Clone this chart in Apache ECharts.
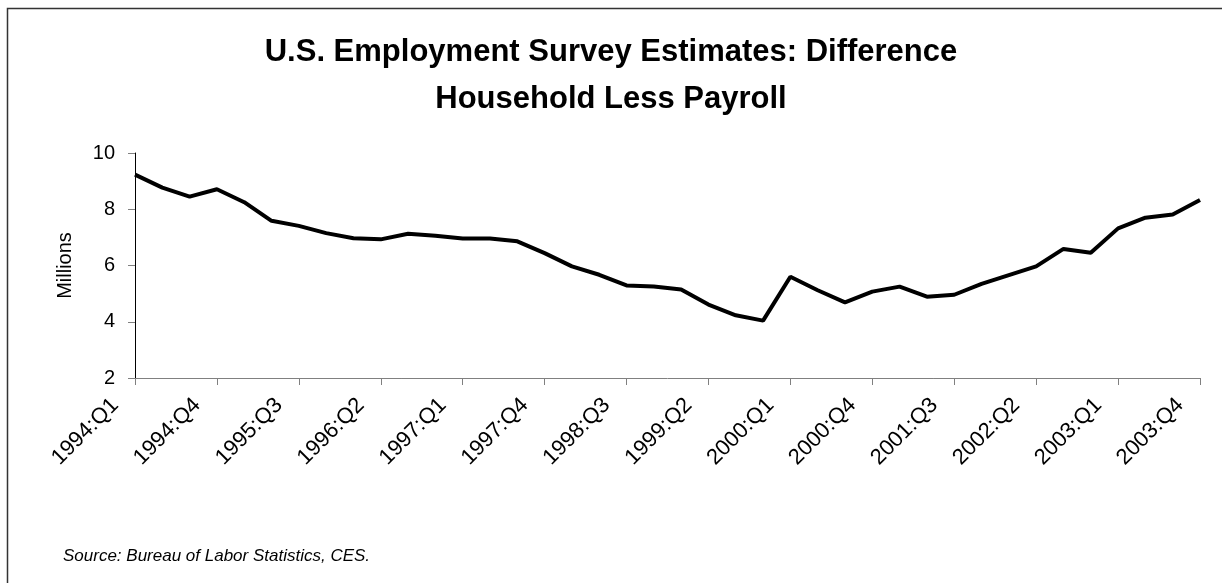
<!DOCTYPE html>
<html>
<head>
<meta charset="utf-8">
<script src="https://cdn.jsdelivr.net/npm/echarts@6/dist/echarts.min.js"></script>
<style>
  html, body { margin: 0; padding: 0; background: #fff; }
  #chart { width: 1222px; height: 583px; }
</style>
</head>
<body>
<div id="chart"></div>
<script>
// quarters 1994:Q1 .. 2003:Q4
const years = ['1994', '1995', '1996', '1997', '1998', '1999', '2000', '2001', '2002', '2003']
const quarters = []
years.forEach(y => {
  for (let q = 1; q <= 4; q++) quarters.push(y + ':Q' + q)
})

// household less payroll, millions
const diffValues = [
  9.23, 8.77, 8.45, 8.71, 8.25, 7.59, 7.41, 7.15, 6.97, 6.93,
  7.13, 7.06, 6.96, 6.96, 6.86, 6.44, 5.97, 5.67, 5.29, 5.25,
  5.15, 4.61, 4.23, 4.04, 5.60, 5.12, 4.69, 5.07, 5.25, 4.89,
  4.96, 5.35, 5.66, 5.97, 6.59, 6.45, 7.32, 7.70, 7.81, 8.33
]

const yMin = 2
const yMax = 10
const yStep = 2

const chart = echarts.init(document.getElementById('chart'))

const option = {
  animation: false,
  backgroundColor: '#fff',
  title: {
    text: 'U.S. Employment Survey Estimates: Difference\nHousehold Less Payroll',
    left: 'center',
    top: 24,
    textStyle: {
      fontFamily: 'Liberation Sans, Arial, sans-serif',
      fontSize: 31,
      fontWeight: 'bold',
      color: '#000',
      lineHeight: 47
    }
  },
  graphic: [
    {
      type: 'rect',
      left: 5,
      top: 6,
      shape: { width: 1240, height: 600 },
      style: { fill: 'none', stroke: '#333', lineWidth: 1.5 },
      silent: true
    },
    {
      type: 'text',
      left: 63,
      top: 548,
      style: {
        text: 'Source: Bureau of Labor Statistics, CES.',
        font: 'italic 17px "Liberation Sans", Arial, sans-serif',
        fill: '#000'
      }
    }
  ],
  grid: {
    left: 135,
    right: 22,
    top: 153,
    bottom: 205
  },
  xAxis: {
    type: 'category',
    data: quarters,
    boundaryGap: false,
    axisLine: { lineStyle: { color: '#808080', width: 1 } },
    axisTick: { interval: 2, length: 7, lineStyle: { color: '#808080' } },
    axisLabel: {
      interval: 2,
      rotate: 45,
      margin: 4,
      padding: [0, 28, 0, 0],
      fontFamily: 'Liberation Sans, Arial, sans-serif',
      fontSize: 22,
      color: '#000'
    }
  },
  yAxis: {
    type: 'value',
    min: yMin,
    max: yMax,
    interval: yStep,
    name: 'Millions',
    nameLocation: 'middle',
    nameGap: 60,
    nameTextStyle: {
      fontFamily: 'Liberation Sans, Arial, sans-serif',
      fontSize: 20,
      color: '#000'
    },
    axisLine: { show: true, lineStyle: { color: '#000', width: 1 } },
    axisTick: { show: true, length: 7, lineStyle: { color: '#808080' } },
    axisLabel: {
      margin: 20,
      fontFamily: 'Liberation Sans, Arial, sans-serif',
      fontSize: 20,
      color: '#000'
    },
    splitLine: { show: false }
  },
  series: [
    {
      name: 'Difference',
      type: 'line',
      data: diffValues,
      symbol: 'none',
      lineStyle: { color: '#000', width: 4 },
      itemStyle: { color: '#000' }
    }
  ]
}

chart.setOption(option)
</script>
</body>
</html>
